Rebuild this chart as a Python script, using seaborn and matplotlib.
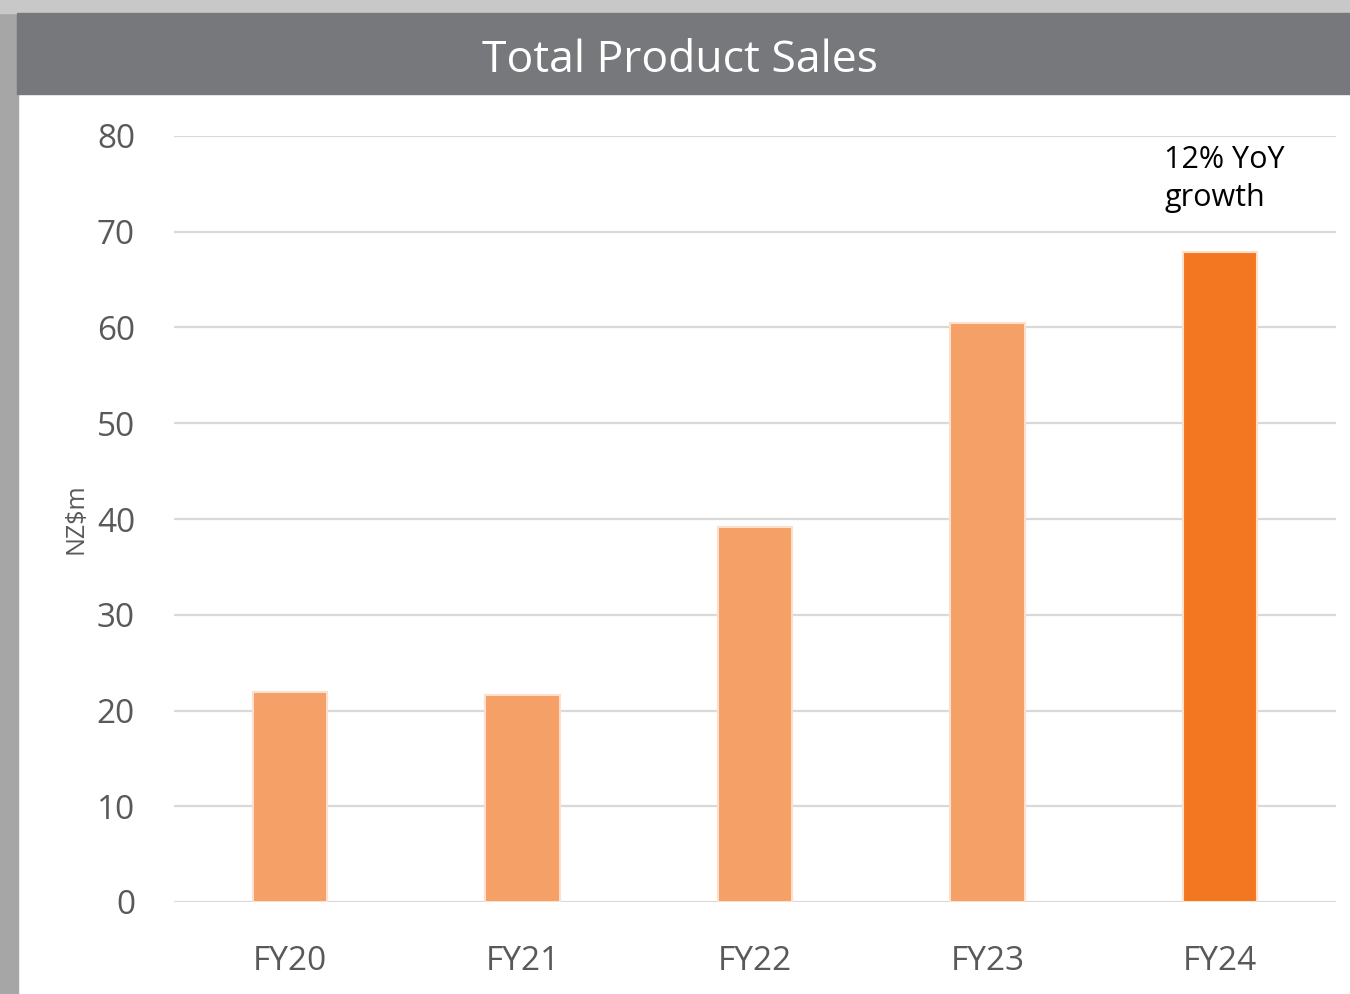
import pandas as pd
import matplotlib.pyplot as plt
import seaborn as sns
from matplotlib.patches import Rectangle

# dados
anos = ["FY20", "FY21", "FY22", "FY23", "FY24"]
vendas = [21.9, 21.6, 39.2, 60.5, 67.9]
cores = ["#f5a066", "#f5a066", "#f5a066", "#f5a066", "#f37721"]

df = pd.DataFrame({"ano": anos, "vendas": vendas})

sns.set_theme(style="white")
plt.rcParams["font.family"] = ["Open Sans", "DejaVu Sans"]

W, H = 1350, 994
fig = plt.figure(figsize=(W / 100, H / 100), dpi=100)

# sombra à esquerda e no topo
fig.patches.append(Rectangle((0, 0), 18 / W, 1, transform=fig.transFigure,
                             color="#a6a6a6", zorder=0))
fig.patches.append(Rectangle((0, 1 - 13 / H), 1, 13 / H, transform=fig.transFigure,
                             color="#c8c8c8", zorder=0))
# faixa do título
fig.patches.append(Rectangle((17 / W, 1 - 94 / H), 1, 81 / H, transform=fig.transFigure,
                             color="#77787b", zorder=1))
fig.text(680 / W, 1 - 61 / H, "Total Product Sales", color="white",
         fontsize=32, ha="center", va="center")

ax = fig.add_axes([174 / W, 92 / H, (1336 - 174) / W, (902 - 136) / H])
sns.barplot(data=df, x="ano", y="vendas", hue="ano", palette=cores,
            legend=False, width=0.32, edgecolor="#fde0cc", linewidth=1.5,
            saturation=1, ax=ax, zorder=3)

ax.set_ylim(0, 80)
ax.set_xlim(-0.5, 4.5)
ax.set_yticks(range(0, 81, 10))
ax.grid(axis="y", color="#d9d9d9", linewidth=1.6, zorder=0)
ax.set_axisbelow(True)
for s in ax.spines.values():
    s.set_visible(False)
ax.tick_params(axis="y", length=0, pad=28, labelsize=24, labelcolor="#595959")
ax.tick_params(axis="x", length=0, pad=31, labelsize=24, labelcolor="#595959")
ax.set_xlabel("")
ax.set_ylabel("NZ$m", fontsize=18, color="#595959", labelpad=6)

ax.text(3.76, 79.1, "12% YoY\ngrowth", fontsize=22, color="black",
        ha="left", va="top", linespacing=1.35)

fig.savefig("out.png", dpi=100)
